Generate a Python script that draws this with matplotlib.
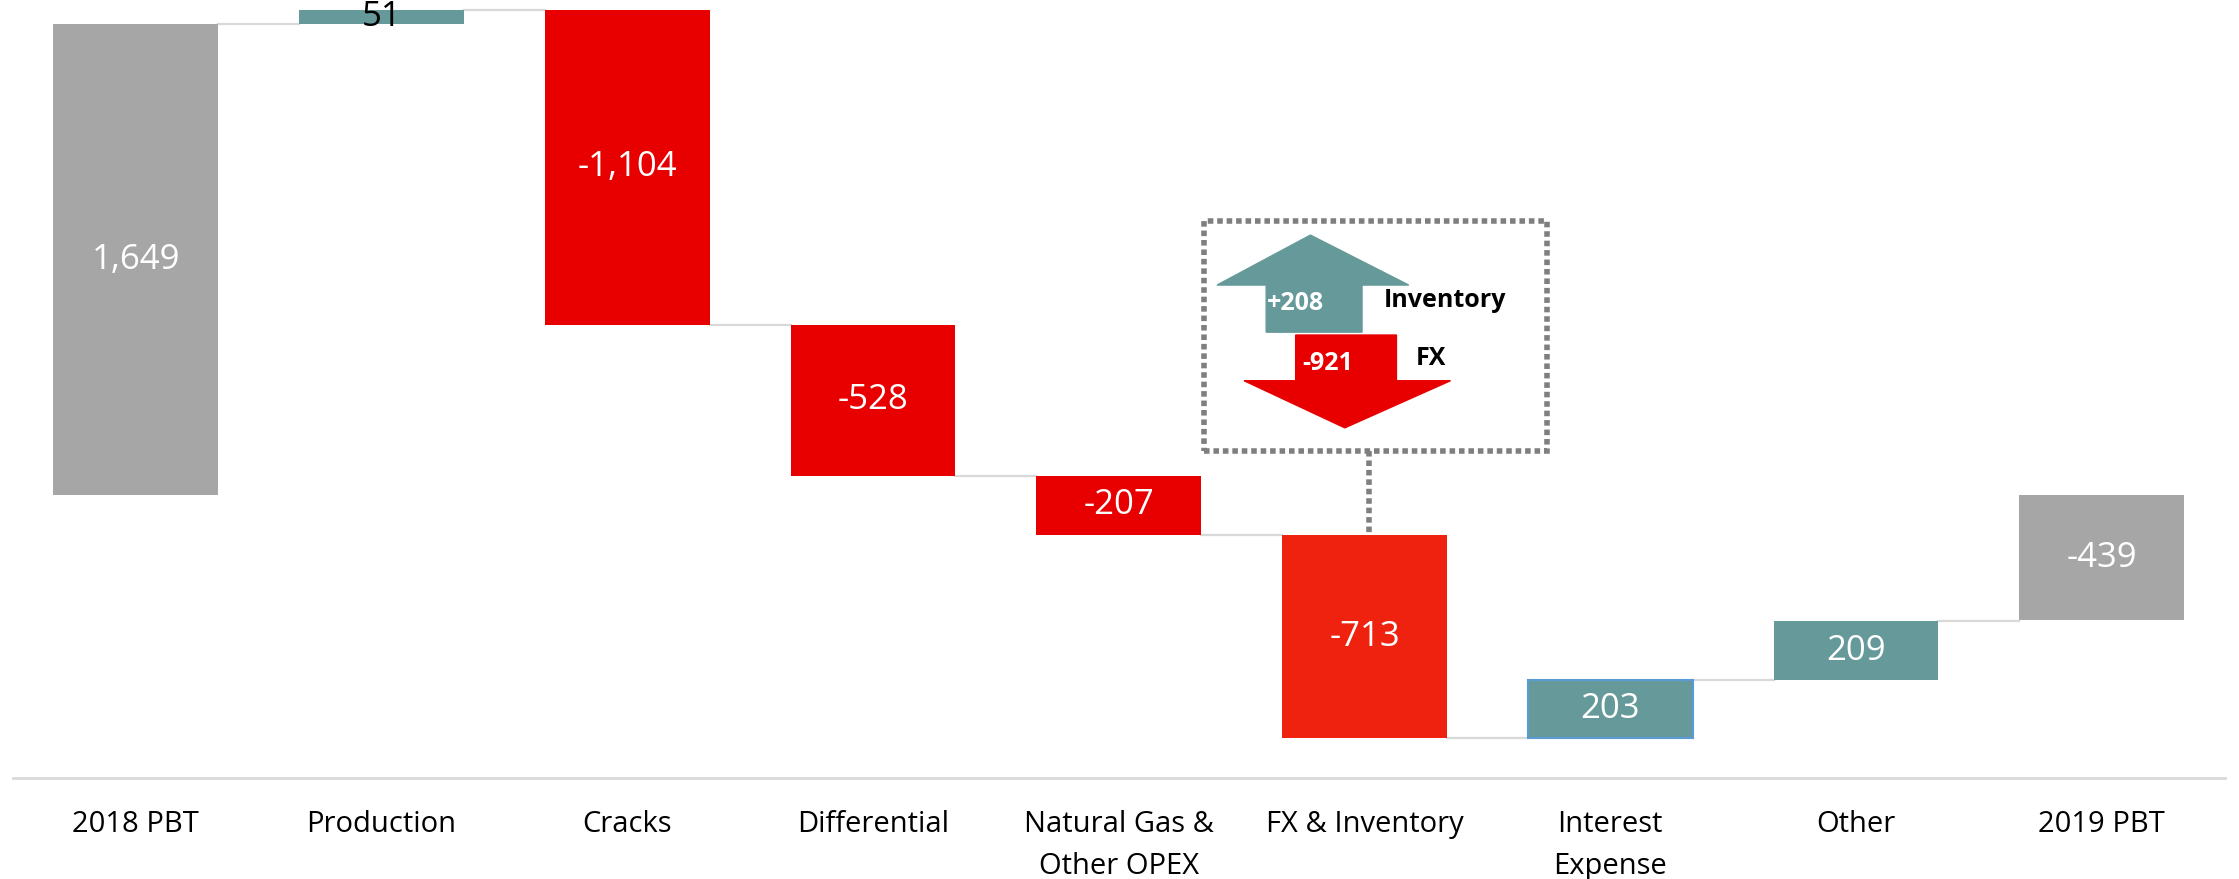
import matplotlib.pyplot as plt
from matplotlib.patches import Polygon, Rectangle
import numpy as np

plt.rcParams['font.family'] = ['Open Sans', 'DejaVu Sans']

# Bridge data
categories = ['2018 PBT', 'Production', 'Cracks', 'Differential',
              'Natural Gas &\nOther OPEX', 'FX & Inventory', 'Interest\nExpense',
              'Other', '2019 PBT']
start_value = 1649
deltas = [51, -1104, -528, -207, -713, 203, 209]
end_value = -439

# FX & Inventory breakdown shown in the callout
inventory_change = 208
fx_change = -921

GREY = '#A6A6A6'
TEAL = '#669999'
RED = '#E80000'
FX_RED = '#EE220E'
LINE = '#D9D9D9'
DOTS = '#7F7F7F'

fig = plt.figure(figsize=(22.39, 8.792), dpi=100)
ax = fig.add_axes([0.0057, 0.1153, 0.9879, 0.8847])

x = np.arange(len(categories))
width = 0.67

# bottoms / heights for every column
levels = np.cumsum([start_value] + deltas)
bottoms = [0] + list(levels[:-1]) + [0]
heights = [start_value] + deltas + [end_value]
colors = [GREY] + [TEAL if d > 0 else RED for d in deltas] + [GREY]
colors[5] = FX_RED

bars = ax.bar(x, heights, bottom=bottoms, width=width, color=colors, zorder=2)
bars[6].set_edgecolor('#5B9BD5')
bars[6].set_linewidth(1.5)

# connectors between consecutive columns
ends = [start_value] + list(levels[1:])
for i, lvl in enumerate(ends):
    ax.plot([x[i] + width / 2, x[i + 1] - width / 2], [lvl, lvl],
            color=LINE, lw=1.6, zorder=1)

# value labels
for i, (b, h) in enumerate(zip(bottoms, heights)):
    txt_color = 'black' if i == 1 else 'white'
    ax.text(x[i], b + h / 2, f'{h:,}', ha='center', va='center',
            fontsize=25, color=txt_color, zorder=3)

# callout for FX & Inventory
fx_i = 5
dot_style = (0, (1, 0.7))
box = Rectangle((fx_i - 0.654, 155), 1.395, 804, fill=False,
                edgecolor=DOTS, lw=4, linestyle=dot_style, zorder=3)
ax.add_patch(box)
ax.plot([fx_i + 0.02, fx_i + 0.02], [155, bottoms[fx_i]], color=DOTS,
        lw=4, linestyle=dot_style, zorder=3)

up = Polygon([(fx_i - 0.40, 570), (fx_i - 0.40, 735), (fx_i - 0.60, 735),
              (fx_i - 0.22, 910), (fx_i + 0.18, 735), (fx_i - 0.01, 735),
              (fx_i - 0.01, 570)], closed=True, color=TEAL, zorder=3)
down = Polygon([(fx_i - 0.28, 560), (fx_i - 0.28, 400), (fx_i - 0.49, 400),
                (fx_i - 0.08, 235), (fx_i + 0.35, 400), (fx_i + 0.13, 400),
                (fx_i + 0.13, 560)], closed=True, color=RED, zorder=3)
ax.add_patch(up)
ax.add_patch(down)
ax.text(fx_i - 0.28, 670, f'+{inventory_change}', ha='center', va='center',
        fontsize=18, fontweight='bold', color='white', zorder=4)
ax.text(fx_i + 0.08, 680, 'Inventory', ha='left', va='center',
        fontsize=18, fontweight='bold', color='black', zorder=4)
ax.text(fx_i - 0.15, 460, f'{fx_change}', ha='center', va='center',
        fontsize=18, fontweight='bold', color='white', zorder=4)
ax.text(fx_i + 0.21, 478, 'FX', ha='left', va='center',
        fontsize=18, fontweight='bold', color='black', zorder=4)

ax.set_xlim(-0.5, len(categories) - 0.5)
ax.set_ylim(-990, 1734)
ax.set_xticks(x)
ax.set_xticklabels(categories, fontsize=21, linespacing=1.6, va='top')
ax.tick_params(axis='x', length=0, pad=23)
ax.set_yticks([])
for side in ['top', 'left', 'right']:
    ax.spines[side].set_visible(False)
ax.spines['bottom'].set_color(LINE)
ax.spines['bottom'].set_linewidth(2)

fig.savefig('out.png', dpi=100)
